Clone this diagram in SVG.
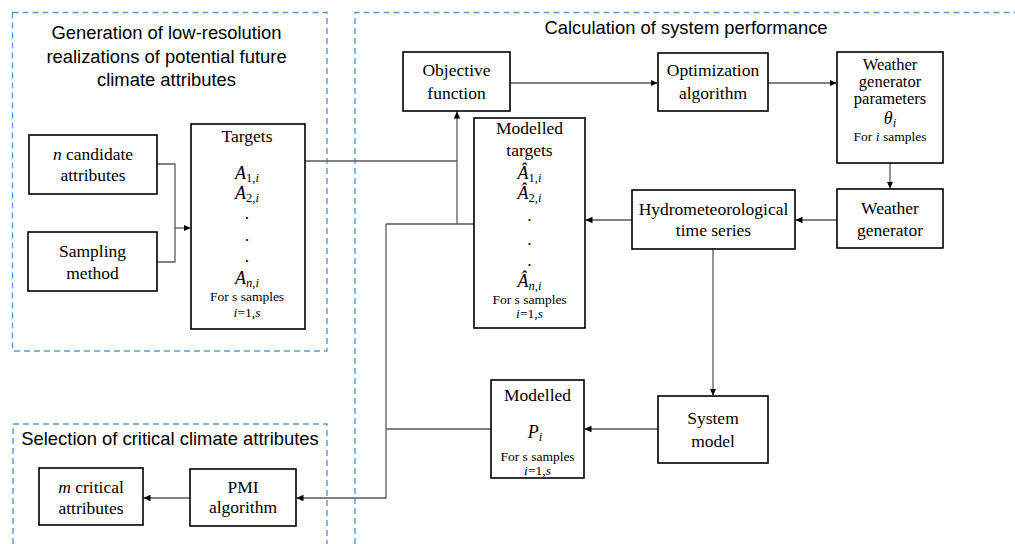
<svg xmlns="http://www.w3.org/2000/svg" width="1015" height="544" viewBox="0 0 1015 544">
<defs>
<marker id="arr" markerWidth="8" markerHeight="8" refX="7" refY="4" orient="auto" markerUnits="userSpaceOnUse">
<path d="M0,0.8 L7,4 L0,7.2 z" fill="#000"/>
</marker>
<style>
.dash{fill:none;stroke:#5B9BD5;stroke-width:1.4;stroke-dasharray:6 4}
.box{fill:#fff;stroke:#000;stroke-width:1.6}
.con{fill:none;stroke:#595959;stroke-width:1.3}
.title{font-family:'Liberation Sans',Arial,sans-serif;font-size:18.4px;fill:#000;text-anchor:middle}
.t{font-family:'Liberation Serif','DejaVu Serif',serif;font-size:17.5px;fill:#000;text-anchor:middle}
.tc{font-size:16.5px}
.s{font-family:'Liberation Serif','DejaVu Serif',serif;font-size:13.5px;fill:#000;text-anchor:middle}
.m{font-family:'Liberation Serif','DejaVu Serif',serif;font-size:18px;fill:#000;text-anchor:middle}
.i{font-style:italic}
.sub{font-size:12.5px}
</style>
</defs>
<rect width="1015" height="544" fill="#fff"/>

<g id="regions">
<rect class="dash" x="12.5" y="12.5" width="314.5" height="338.5"/>
<path class="dash" d="M355 544 V12.5 H1015"/>
<path class="dash" d="M13 544 V424 H327 V544"/>
<text class="title" x="166.5" y="39">Generation of low-resolution</text>
<text class="title" x="166.5" y="62.5">realizations of potential future</text>
<text class="title" x="166.5" y="86">climate attributes</text>
<text class="title" x="686" y="34">Calculation of system performance</text>
<text class="title" x="170" y="445">Selection of critical climate attributes</text>
</g>

<g id="connectors">
<path class="con" d="M157 164 H175 V228"/>
<path class="con" d="M157 262 H175 V228"/>
<path class="con" d="M175 228 H190.5" marker-end="url(#arr)"/>
<path class="con" d="M305 161 H457"/>
<path class="con" d="M386 224 H474"/>
<path class="con" d="M457 224 V111.5" marker-end="url(#arr)"/>
<path class="con" d="M510 83 H657.5" marker-end="url(#arr)"/>
<path class="con" d="M768 83 H836.5" marker-end="url(#arr)"/>
<path class="con" d="M890 163 V188.5" marker-end="url(#arr)"/>
<path class="con" d="M837 220 H795.5" marker-end="url(#arr)"/>
<path class="con" d="M632 220 H585.5" marker-end="url(#arr)"/>
<path class="con" d="M713 249 V395.5" marker-end="url(#arr)"/>
<path class="con" d="M658 429 H584.5" marker-end="url(#arr)"/>
<path class="con" d="M491 429 H386"/>
<path class="con" d="M386 224 V498 H296.5" marker-end="url(#arr)"/>
<path class="con" d="M190 498 H143.5" marker-end="url(#arr)"/>
</g>

<g id="n-candidate">
<rect class="box" x="29" y="135" width="128" height="59"/>
<text class="t" x="93" y="160"><tspan class="i">n</tspan> candidate</text>
<text class="t" x="93" y="181">attributes</text>
</g>

<g id="sampling">
<rect class="box" x="28" y="232" width="129" height="59"/>
<text class="t" x="92.5" y="257">Sampling</text>
<text class="t" x="92.5" y="279">method</text>
</g>

<g id="targets">
<rect class="box" x="191" y="124" width="114" height="205"/>
<text class="t" x="247" y="142">Targets</text>
<text class="m" x="247" y="179"><tspan class="i">A</tspan><tspan class="sub" dy="3">1,</tspan><tspan class="sub i">i</tspan></text>
<text class="m" x="247" y="199"><tspan class="i">A</tspan><tspan class="sub" dy="3">2,</tspan><tspan class="sub i">i</tspan></text>
<text class="t" x="247" y="219">.</text>
<text class="t" x="247" y="241">.</text>
<text class="t" x="247" y="262">.</text>
<text class="m" x="247" y="284"><tspan class="i">A</tspan><tspan class="sub i" dy="3">n</tspan><tspan class="sub">,</tspan><tspan class="sub i">i</tspan></text>
<text class="s" x="247" y="301">For s samples</text>
<text class="s" x="247" y="317"><tspan class="i">i</tspan>=1,<tspan class="i">s</tspan></text>
</g>

<g id="objective">
<rect class="box" x="403" y="52" width="107" height="59"/>
<text class="t" x="456.5" y="76">Objective</text>
<text class="t" x="456.5" y="99">function</text>
</g>

<g id="optimization">
<rect class="box" x="658" y="53" width="110" height="58"/>
<text class="t" x="713" y="76">Optimization</text>
<text class="t" x="713" y="99">algorithm</text>
</g>

<g id="wg-params">
<rect class="box" x="837" y="52" width="106" height="111"/>
<text class="t tc" x="890" y="69.5">Weather</text>
<text class="t tc" x="890" y="86.5">generator</text>
<text class="t tc" x="890" y="103.5">parameters</text>
<text class="m" x="890" y="124"><tspan class="i">θ</tspan><tspan class="sub i" dy="3">i</tspan></text>
<text class="s" x="890" y="141">For <tspan class="i">i</tspan> samples</text>
</g>

<g id="modelled-targets">
<rect class="box" x="474" y="118" width="111" height="210"/>
<text class="t" x="529.5" y="134">Modelled</text>
<text class="t" x="529.5" y="156">targets</text>
<text class="m" x="529.5" y="179"><tspan class="i">Â</tspan><tspan class="sub" dy="3">1,</tspan><tspan class="sub i">i</tspan></text>
<text class="m" x="529.5" y="199"><tspan class="i">Â</tspan><tspan class="sub" dy="3">2,</tspan><tspan class="sub i">i</tspan></text>
<text class="t" x="529.5" y="221">.</text>
<text class="t" x="529.5" y="245">.</text>
<text class="t" x="529.5" y="266">.</text>
<text class="m" x="529.5" y="287"><tspan class="i">Â</tspan><tspan class="sub i" dy="3">n</tspan><tspan class="sub">,</tspan><tspan class="sub i">i</tspan></text>
<text class="s" x="529.5" y="304">For s samples</text>
<text class="s" x="529.5" y="318"><tspan class="i">i</tspan>=1,<tspan class="i">s</tspan></text>
</g>

<g id="hydro">
<rect class="box" x="632" y="190" width="163" height="59"/>
<text class="t" x="713.5" y="215">Hydrometeorological</text>
<text class="t" x="713.5" y="236">time series</text>
</g>

<g id="weather-gen">
<rect class="box" x="837" y="189" width="106" height="59"/>
<text class="t" x="890" y="214">Weather</text>
<text class="t" x="890" y="236">generator</text>
</g>

<g id="system-model">
<rect class="box" x="658" y="396" width="110" height="67"/>
<text class="t" x="713" y="424">System</text>
<text class="t" x="713" y="447">model</text>
</g>

<g id="modelled-p">
<rect class="box" x="491" y="380" width="93" height="98"/>
<text class="t" x="537.5" y="401">Modelled</text>
<text class="m" x="535" y="438"><tspan class="i">P</tspan><tspan class="sub i" dy="3">i</tspan></text>
<text class="s" x="537.5" y="461">For s samples</text>
<text class="s" x="537.5" y="475"><tspan class="i">i</tspan>=1,<tspan class="i">s</tspan></text>
</g>

<g id="pmi">
<rect class="box" x="190" y="469" width="106" height="57"/>
<text class="t" x="243" y="493">PMI</text>
<text class="t" x="243" y="513">algorithm</text>
</g>

<g id="m-critical">
<rect class="box" x="39" y="468" width="104" height="57"/>
<text class="t" x="91" y="493"><tspan class="i">m</tspan> critical</text>
<text class="t" x="91" y="514">attributes</text>
</g>
</svg>
